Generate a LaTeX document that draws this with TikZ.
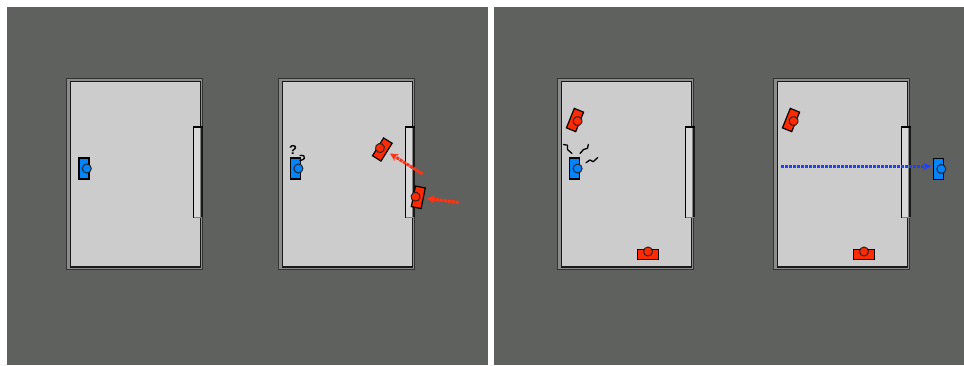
\documentclass[tikz,border=0pt]{standalone}
\usepackage{fontspec}
\setmainfont{Liberation Sans}
\usetikzlibrary{arrows.meta}
\definecolor{bgc}{HTML}{5F615F}
\definecolor{wallc}{HTML}{8A8B8A}
\definecolor{roomc}{HTML}{CCCCCC}
\definecolor{doorc}{HTML}{D8D8D8}
\definecolor{bluec}{HTML}{0084FF}
\definecolor{redc}{HTML}{FF2A00}
\definecolor{bluear}{HTML}{1E40FF}
\definecolor{redar}{HTML}{FF3414}
\tikzset{
  panel/.style={fill=bgc,draw=none},
  squiggle/.style={draw=black,line width=1.3pt,line join=round,line cap=round},
  dotarrow/.style={line width=3pt,dash pattern=on 3.2pt off 0.8pt,-{Stealth[length=8pt,width=8pt]}},
  room/.pic={
    \path[fill=wallc,draw=black!80,line width=1pt] (66.5,78.5) rectangle (202.5,269.5);
    \path[fill=roomc,draw=black!90,line width=1.7pt] (70.5,81.5) rectangle (200.5,267);
  },
  doorway/.pic={
    \path[fill=doorc] (193.5,127) rectangle (199.6,217);
    \path[fill=black!50] (199.6,127) rectangle (201.2,217);
    \path[fill=black!90] (201.2,127) rectangle (202.8,217);
    \path[draw=black!50,line width=0.8pt] (193.5,217) -- (202,217);
    \path[draw=black,line width=1.2pt] (193.5,217.5) -- (193.5,126.8);
    \path[draw=black,line width=1.5pt] (193,126.8) -- (202.8,126.8);
  },
  person/.pic={
    \path[pic actions,draw=black,line width=1.2pt] (-5,-10.5) rectangle (5,10.5);
    \path[pic actions,draw=black!85,line width=1pt] (2.8,0) circle (4.5);
  },
  bluep/.style={fill=bluec},
  redp/.style={fill=redc},
}
\begin{document}
\begin{tikzpicture}[x=1pt,y=-1pt]
\useasboundingbox[fill=white] (0,0) rectangle (964,365);
\path[panel] (7,7) rectangle (488,365);
\path[panel] (494,7) rectangle (964,365);
\pic at (0,0) {room};
\pic at (212,0) {room};
\pic at (491,0) {room};
\pic at (707,0) {room};
\pic at (0,0) {doorway};
\pic at (212,0) {doorway};
\pic at (492,0) {doorway};
\pic at (708,0) {doorway};
% first room
\pic[bluep] at (84,168.5) {person};
% second room
\pic[bluep] at (295.6,168.5) {person};
\node[font=\bfseries\fontsize{13}{13}\selectfont,inner sep=0pt] (quest) at (293,150) {?};
\draw[squiggle] (300,160.5) .. controls (304.5,160) and (305.5,157) .. (304,156) .. controls (303,155) and (301,155.5) .. (300,155.5);
\pic[redp,rotate=148] at (382.3,149.5) {person};
\coordinate (ra1) at (422.7,174);
\coordinate (ra2) at (390,153.5);
\draw[redar,dotarrow] (ra1) -- (ra2);
\pic[redp,rotate=168.5] at (418.3,197.3) {person};
\coordinate (rb1) at (458.7,202.5);
\coordinate (rb2) at (426.5,198.3);
\draw[redar,dotarrow] (rb1) -- (rb2);
% third room
\pic[bluep] at (574.8,168.5) {person};
\pic[redp,rotate=-22] at (575,120) {person};
\pic[redp,rotate=90] at (648,254.3) {person};
\draw[squiggle] (563.5,144.5) -- (567.5,145.2) -- (567.5,149.5) -- (572,153.5);
\draw[squiggle] (580,153.5) -- (583.5,149.5) -- (587.5,148.3) -- (588.3,144.5);
\draw[squiggle] (586,162.7) -- (590,160) -- (593.3,161.7) -- (597.7,157.5);
% fourth room
\pic[redp,rotate=-22] at (791,120) {person};
\pic[redp,rotate=90] at (864,254.3) {person};
\pic[bluep] at (938.5,169) {person};
\coordinate (ba1) at (781,166.3);
\coordinate (ba2) at (931,166.3);
\draw[bluear,dotarrow] (ba1) -- (ba2);
\end{tikzpicture}
\end{document}
